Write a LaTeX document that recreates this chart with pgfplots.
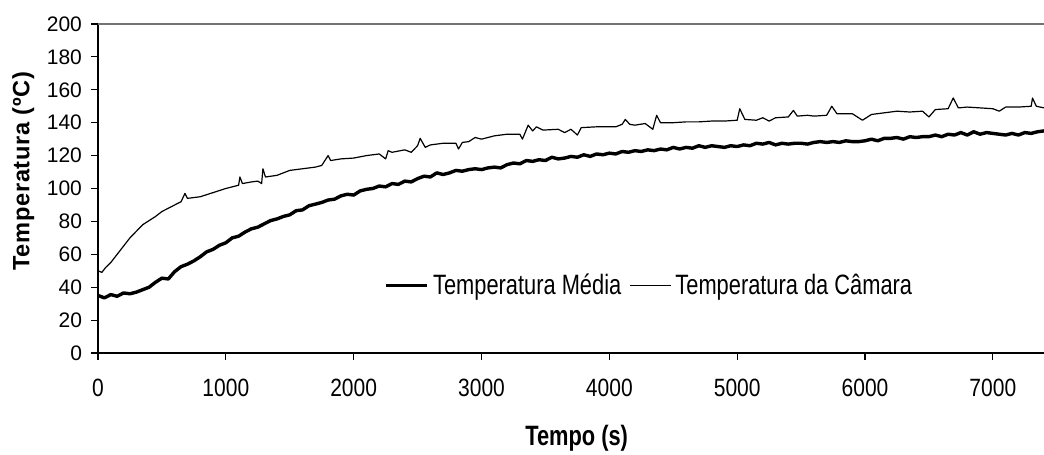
\documentclass[border=0pt]{standalone}
\usepackage{fontspec}
\setmainfont{Liberation Sans}
\newfontfamily\narrowA{Liberation Sans}[FakeStretch=0.84]
\newfontfamily\narrowB{Liberation Sans}[FakeStretch=0.78]
\newfontfamily\spaced{Liberation Sans}[LetterSpace=3]
\usepackage{pgfplots}
\pgfplotsset{compat=1.18}

\pgfplotstableread{
x T
0 35
50 33.5
100 35.5
150 34.5
200 36.5
250 36
300 37
350 38.5
400 40
450 43
500 45.5
550 45
600 49.5
650 52.5
700 54
750 56
800 58.5
850 61.5
900 63
950 65.5
1000 67
1050 70
1100 71
1150 73.5
1200 75.5
1250 76.5
1300 78.5
1350 80.5
1400 81.5
1450 83
1500 84
1550 86.5
1600 87
1650 89.5
1700 90.5
1750 91.5
1800 93
1850 93.5
1900 95.5
1950 96.5
2000 96
2050 98.5
2100 99.5
2150 100
2200 101.5
2250 101
2300 103
2350 102.5
2400 104.5
2450 104
2500 106
2550 107.5
2600 107
2650 109.5
2700 108.5
2750 109.5
2800 111
2850 110.5
2900 111.5
2950 112
3000 111.5
3050 112.5
3100 113
3150 112.5
3200 114.5
3250 115.5
3300 115
3350 117
3400 116.5
3450 117.5
3500 117
3550 119
3600 118
3650 118.5
3700 119.5
3750 119
3800 120.5
3850 119.5
3900 121
3950 120.5
4000 121.5
4050 121
4100 122.5
4150 122
4200 123
4250 122.5
4300 123.5
4350 123
4400 124
4450 123.5
4500 125
4550 124
4600 125
4650 124.5
4700 126
4750 125
4800 126
4850 125.5
4900 125
4950 126
5000 125.5
5050 126.5
5100 126
5150 127.5
5200 127
5250 128
5300 126.5
5350 127.5
5400 127
5450 127.5
5500 127.5
5550 127
5600 128
5650 128.5
5700 128
5750 128.5
5800 128
5850 129
5900 128.5
5950 128.5
6000 129
6050 130
6100 129
6150 130.5
6200 130.5
6250 131
6300 130
6350 131.5
6400 131
6450 131.5
6500 131.5
6550 132.5
6600 131.5
6650 133
6700 132.5
6750 134
6800 132.5
6850 134.5
6900 133
6950 134
7000 133.5
7050 133
7100 132.5
7150 133.5
7200 132.5
7250 134
7300 133.5
7350 134.5
7400 135
}\media

\pgfplotstableread{
x T
0 50
30 49
60 52
100 55
150 60
200 65
250 70
300 74
350 78
400 80.5
450 83
500 86
550 88
600 90
650 92
680 97
700 94
800 95
900 97.5
1000 100
1100 102
1110 107
1130 103
1200 104
1250 104.5
1280 103
1290 112
1310 107
1400 108
1500 111
1600 112
1700 113
1750 114
1800 120
1820 117
1900 118
2000 118.5
2100 120
2200 121
2250 118
2270 123
2300 122
2400 123.5
2450 122
2500 126
2520 130.5
2560 125
2600 126.5
2700 127.5
2800 127.5
2820 124
2850 128
2900 128.5
2950 131
3000 130
3100 132
3200 133
3300 133
3320 130
3365 138.5
3400 135
3430 137.5
3480 135.5
3600 136
3650 134
3700 136
3750 132.5
3780 137
3900 137.5
4000 137.5
4050 137.5
4100 139
4125 142
4160 139
4200 138.5
4280 139.5
4340 136
4370 144.5
4400 140
4500 140
4600 140.5
4700 140.5
4800 141
4900 141
5000 141.5
5020 148.5
5060 142
5150 141.5
5200 143
5250 141
5300 143
5400 143.5
5440 147.5
5470 144
5550 144.5
5600 144
5700 144.5
5740 150
5780 145.5
5900 145.5
5980 141.5
6050 145
6150 146
6250 147
6350 146.5
6450 147
6500 143.5
6550 148
6650 148.5
6690 155
6730 149
6800 149.5
6900 149
7000 148.5
7050 147
7100 149.5
7200 149.5
7300 150
7310 155
7340 150
7400 149
}\camara

\begin{document}
\begin{tikzpicture}
\path[use as bounding box] (-49pt,-51pt) rectangle (473pt,176.5pt);
\begin{axis}[
  at={(0,0)}, anchor=south west,
  scale only axis,
  width=473pt, height=164.5pt,
  xmin=0, xmax=7400, ymin=0, ymax=200,
  xtick={0,1000,...,7000},
  ytick={0,20,...,200},
  axis x line*=bottom, axis y line*=left,
  axis line style={-, black, line width=0.75pt},
  tick align=outside,
  major tick length=3.5pt,
  tick style={black, line width=0.6pt},
  /pgf/number format/assume math mode=true,
  /pgf/number format/1000 sep={},
  yticklabel style={font=\fontsize{10.5}{12}\selectfont, xshift=-1pt},
  xticklabel style={font=\narrowA\fontsize{12.5}{14}\selectfont, yshift=-6pt},
  xlabel={Tempo (s)},
  ylabel={Temperatura (ºC)},
  xlabel style={at={(axis description cs:0.506,-0.258)}, anchor=center, font=\narrowB\bfseries\fontsize{14}{16}\selectfont},
  ylabel style={at={(axis description cs:-0.079,0.553)}, anchor=center, font=\spaced\bfseries\fontsize{11.8}{14}\selectfont},
  legend style={at={(axis description cs:0.584,0.205)}, anchor=center, draw=none, fill=none,
    font=\narrowB\fontsize{14}{16}\selectfont, legend columns=2,
    /tikz/every even column/.append style={column sep=2pt}},
  legend image code/.code={\draw[#1] (0cm,0cm) -- (0.72cm,0cm);},
]
\addplot[black, line width=1.7pt, line join=round] table[x=x,y=T]{\media};
\addlegendentry{Temperatura Média}
\addplot[black, line width=0.6pt, line join=round] table[x=x,y=T]{\camara};
\addlegendentry{Temperatura da Câmara}
\draw[black!55, line width=0.75pt] (rel axis cs:0,1) -- (rel axis cs:1,1);
\end{axis}
\end{tikzpicture}
\end{document}
